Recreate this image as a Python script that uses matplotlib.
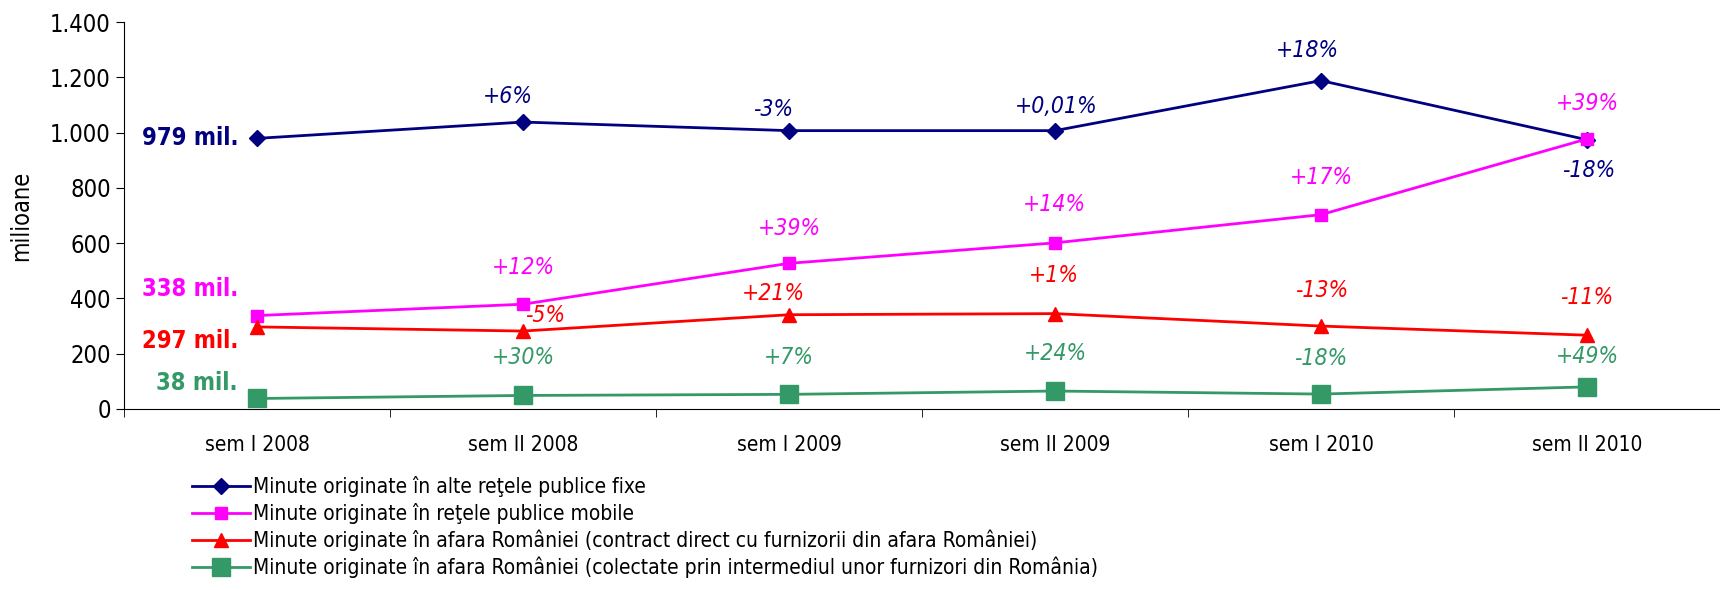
import numpy as np
import matplotlib.pyplot as plt

# data (milioane minute)
periods = ["sem I 2008", "sem II 2008", "sem I 2009", "sem II 2009", "sem I 2010", "sem II 2010"]
fixe = [979, 1038, 1007, 1007, 1188, 974]
mobile = [338, 379, 527, 601, 703, 977]
externe_direct = [297, 282, 341, 345, 300, 267]
externe_ro = [38, 49, 53, 65, 54, 80]

pct_fixe = ["", "+6%", "-3%", "+0,01%", "+18%", "-18%"]
pct_mobile = ["", "+12%", "+39%", "+14%", "+17%", "+39%"]
pct_direct = ["", "-5%", "+21%", "+1%", "-13%", "-11%"]
pct_ro = ["", "+30%", "+7%", "+24%", "-18%", "+49%"]

start_labels = ["979 mil.", "338 mil.", "297 mil.", "38 mil."]
series_names = [
    "Minute originate în alte reţele publice fixe",
    "Minute originate în reţele publice mobile",
    "Minute originate în afara României (contract direct cu furnizorii din afara României)",
    "Minute originate în afara României (colectate prin intermediul unor furnizori din România)",
]

plt.rcParams['font.family'] = ['DejaVu Sans']
plt.rcParams['font.stretch'] = 'condensed'

fig = plt.figure(figsize=(17.2, 5.9), dpi=100)
ax = fig.add_axes([124 / 1720, 1 - 409 / 590, 1 - 124 / 1720, (409 - 22) / 590])

x = np.arange(len(periods))
colors = ["#000080", "#ff00ff", "#ff0000", "#339966"]
markers = ["D", "s", "^", "s"]
msizes = [8, 8, 10, 13]
series = [fixe, mobile, externe_direct, externe_ro]
pcts = [pct_fixe, pct_mobile, pct_direct, pct_ro]

# label offsets in pixels (dx, dy), positive dy = up
offsets = [
    [(0, 0), (-15, 26), (-16, 21), (1, 24), (-14, 30), (2, -31)],
    [(0, 0), (0, 37), (0, 35), (-1, 38), (0, 37), (0, 35)],
    [(0, 0), (22, 16), (-16, 21), (-1, 38), (1, 36), (0, 38)],
    [(0, 0), (0, 38), (0, 37), (0, 38), (0, 36), (0, 30)],
]
start_y = [126, 263, 311, 349]  # rows of the left-hand labels (shrunk px)

for i, (vals, c, m, ms, name) in enumerate(zip(series, colors, markers, msizes, series_names)):
    ax.plot(x, vals, color=c, marker=m, markersize=ms, linewidth=2, label=name, clip_on=False)
    for j in range(1, len(vals)):
        dx, dy = offsets[i][j]
        ax.annotate(pcts[i][j], (x[j], vals[j]), xytext=(dx, dy), textcoords='offset pixels',
                    ha='center', va='center', color=c, fontsize=16.5, style='italic')

for lab, c, yy in zip(start_labels, colors, start_y):
    fig.text(238 / 1720, 1 - yy * 1.097 / 590, lab, ha='right', va='center',
             color=c, fontsize=17, fontweight='bold')

ax.set_xlim(-0.5, (1720 - 124) / 269 - 0.5)
ax.set_ylim(0, 1400)
ax.set_yticks(np.arange(0, 1401, 200))
ax.set_yticklabels([f"{v:,}".replace(",", ".") for v in range(0, 1401, 200)], fontsize=17)
ax.set_xticks(x)
ax.set_xticklabels(periods, fontsize=15)
ax.set_xticks(np.arange(-0.5, 6, 1), minor=True)
ax.tick_params(axis='x', which='major', length=0, pad=19)
ax.tick_params(axis='x', which='minor', length=6, direction='out')
ax.tick_params(axis='y', length=6, direction='out')
ax.set_ylabel("milioane", fontsize=17, labelpad=12)
for s in ["top", "right"]:
    ax.spines[s].set_visible(False)

fig.legend(loc='upper left', bbox_to_anchor=(192 / 1720, 1 - 476 / 590), frameon=False,
           fontsize=15, handlelength=2.8, handletextpad=0.15, labelspacing=0.28,
           borderaxespad=0, borderpad=0)

fig.savefig("out.png", dpi=100)
